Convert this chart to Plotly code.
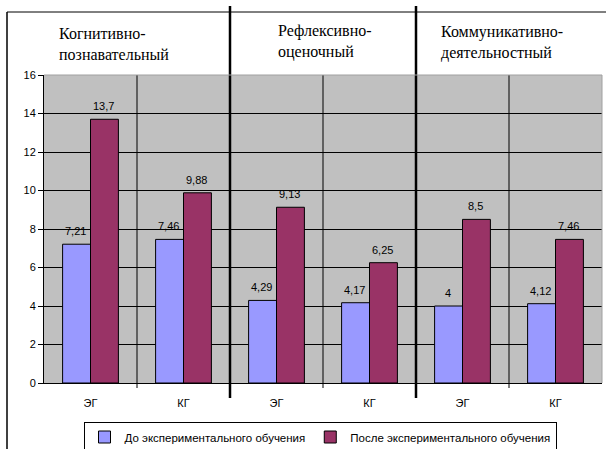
import plotly.graph_objects as go

groups = ["Когнитивно-<br>познавательный", "Рефлексивно-<br>оценочный", "Коммуникативно-<br>деятельностный"]
subgroups = ["ЭГ", "КГ", "ЭГ", "КГ", "ЭГ", "КГ"]
before = [7.21, 7.46, 4.29, 4.17, 4, 4.12]
after = [13.7, 9.88, 9.13, 6.25, 8.5, 7.46]
series_names = ["До экспериментального обучения", "После экспериментального обучения"]
colors = ["#9999FF", "#993366"]
yticks = [0, 2, 4, 6, 8, 10, 12, 14, 16]

xs = list(range(len(subgroups)))

fig = go.Figure()
for name, vals, col in zip(series_names, [before, after], colors):
    fig.add_trace(go.Bar(
        x=xs, y=vals, name=name,
        marker=dict(color=col, line=dict(color="black", width=1)),
    ))

def fmt(v):
    return str(v).replace(".", ",")

ann = []
for off, vals in zip([-0.16, 0.14], [before, after]):
    for i, v in zip(xs, vals):
        ann.append(dict(x=i + off, y=v, text=fmt(v), showarrow=False,
                        xref="x", yref="y", yanchor="bottom", yshift=5,
                        font=dict(family="Liberation Sans", size=11, color="black")))

def px_x(px):
    return (px - 44) / 558

def px_y(py):
    return (383 - py) / 308

# group titles
title_x = [57, 276, 439]
title_y = [23, 20, 21]
for t, px, py in zip(groups, title_x, title_y):
    ann.append(dict(x=px_x(px), y=px_y(py), xref="paper", yref="paper",
                    text=t, showarrow=False, xanchor="left", yanchor="top", align="left",
                    font=dict(family="Liberation Serif", size=16, color="black")))

shapes = []
for b in [0.5, 2.5, 4.5]:
    shapes.append(dict(type="line", xref="x", yref="paper", x0=b, x1=b, y0=px_y(388), y1=1,
                       line=dict(color="black", width=1)))
for b in [1.5, 3.5]:
    shapes.append(dict(type="line", xref="x", yref="paper", x0=b, x1=b, y0=px_y(398), y1=px_y(6),
                       line=dict(color="black", width=2.5)))
shapes.append(dict(type="line", xref="paper", yref="paper", x0=0, x1=1, y0=1, y1=1,
                   line=dict(color="#A0A0A0", width=1)))
shapes.append(dict(type="line", xref="paper", yref="paper", x0=1, x1=1, y0=0, y1=1,
                   line=dict(color="#A0A0A0", width=1)))
shapes.append(dict(type="line", xref="paper", yref="paper", x0=px_x(7), x1=px_x(606),
                   y0=px_y(12), y1=px_y(12), line=dict(color="black", width=1)))
shapes.append(dict(type="line", xref="paper", yref="paper", x0=px_x(7), x1=px_x(7),
                   y0=px_y(12), y1=px_y(449), line=dict(color="black", width=1.5)))

fig.update_layout(
    width=606, height=449,
    margin=dict(l=44, r=4, t=75, b=66, autoexpand=False),
    paper_bgcolor="white", plot_bgcolor="#C0C0C0",
    barmode="group", bargap=0.4, bargroupgap=0,
    showlegend=True,
    legend=dict(orientation="h", x=px_x(320), xanchor="center", y=px_y(437), yanchor="middle",
                bordercolor="black", borderwidth=1, bgcolor="white",
                font=dict(family="Liberation Sans", size=11.5, color="black"),
                itemwidth=30, tracegroupgap=0),
    xaxis=dict(range=[-0.5, 5.5], tickvals=xs, ticktext=subgroups, showgrid=False,
               showline=True, linecolor="black", linewidth=1, ticks="",
               ticklabelstandoff=10,
               tickfont=dict(family="Liberation Sans", size=11, color="black"),
               zeroline=False, fixedrange=True),
    yaxis=dict(range=[0, 16], tickvals=yticks, showgrid=True, gridcolor="black", gridwidth=1,
               showline=True, linecolor="black", linewidth=1, ticks="outside", ticklen=5,
               tickcolor="black",
               tickfont=dict(family="Liberation Sans", size=11, color="black"),
               zeroline=False, fixedrange=True),
    annotations=ann, shapes=shapes,
)

fig.write_html("out.html", config={"displayModeBar": False},
               post_script="document.body.style.margin='0';document.body.style.overflow='hidden';")
